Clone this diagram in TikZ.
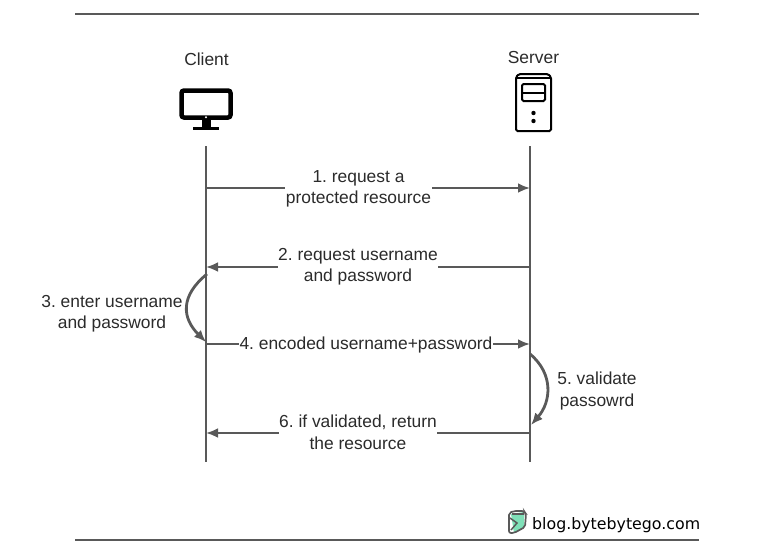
\documentclass[tikz,border=0pt]{standalone}
\usepackage{fontspec}
\setmainfont{Liberation Sans}
\newfontfamily\logofont{DejaVu Sans}
\usetikzlibrary{arrows.meta}
\definecolor{linegray}{HTML}{595959}
\definecolor{textgray}{HTML}{2B2B2B}
\definecolor{logogreen}{HTML}{7FE0B8}
\tikzset{
	lifeline/.style={line width=2.6pt,linegray},
	msg/.style={line width=2.5pt,linegray,-{Latex[length=12pt,width=10pt]}},
	selfmsg/.style={line width=2.8pt,linegray,-{Latex[length=12pt,width=10pt]}},
	hrule/.style={line width=1.5pt,linegray},
	lab/.style={fill=white,inner sep=0.5pt,align=center,font=\frenchspacing\fontsize{17.4}{21.5}\selectfont,text=textgray},
	icon/.style={line width=2pt,black,rounded corners=1.5pt}
}
\begin{document}
\begin{tikzpicture}[x=1pt,y=-1pt]
	\useasboundingbox (0,0) rectangle (772,558);
	
	\coordinate (ruleTL) at (75,14);
	\coordinate (ruleTR) at (699,14);
	\coordinate (ruleBL) at (75,540);
	\coordinate (ruleBR) at (699,540);
	\draw[hrule] (ruleTL) -- (ruleTR);
	\draw[hrule] (ruleBL) -- (ruleBR);
	
	\node[lab] (client) at (206.5,59) {Client};
	\node[lab] (server) at (533.5,58) {Server};
	
	\coordinate (clientTop) at (206,146);
	\coordinate (clientEnd) at (206,462);
	\coordinate (serverTop) at (530,146);
	\coordinate (serverEnd) at (530,462);
	\draw[lifeline] (clientTop) -- (clientEnd);
	\draw[lifeline] (serverTop) -- (serverEnd);
	
	\coordinate (c1) at (206,188);
	\coordinate (s1) at (530,188);
	\coordinate (c2) at (206,267);
	\coordinate (s2) at (530,267);
	\coordinate (c3) at (207,274);
	\coordinate (c4) at (206,344);
	\coordinate (s4) at (530,344);
	\coordinate (s5) at (530,354);
	\coordinate (s6) at (530,433);
	\coordinate (c6) at (206,433);
	\coordinate (c3e) at (206,342);
	\coordinate (s5e) at (531,425);
	
	\draw[msg] (c1) -- (s1);
	\draw[msg] (s2) -- (c2);
	\draw[msg] (c4) -- (s4);
	\draw[msg] (s6) -- (c6);
	\draw[selfmsg] (c3) .. controls (180,296) and (182,318) .. (c3e);
	\draw[selfmsg] (s5) .. controls (554,374) and (551,402) .. (s5e);
	
	\node[lab] (step1) at (358.5,189) {1. request a\\protected resource};
	\node[lab] (step2) at (358,266.5) {2. request username\\and password};
	\node[lab,fill=none] (step3) at (112,313.5) {3. enter username\\and password};
	\node[lab] (step4) at (366,345) {4. encoded username+password};
	\node[lab,fill=none] (step5) at (597,391) {5. validate\\passowrd};
	\node[lab] (step6) at (358,432.5) {6. if validated, return\\the resource};
	
	\draw[line width=4.5pt,black,rounded corners=2.5pt] (181.5,90.5) rectangle (230.5,117.5);
	\fill[black] (202,119) rectangle (211,127);
	\fill[black] (193,127) rectangle (219,129.5);
	\fill[white] (206,117.3) circle [radius=1.1];
	
	\draw[icon] (516,131) -- (516,77) -- (519,74) -- (548,74) -- (551,77) -- (551,131) -- cycle;
	\draw[line width=1.5pt,black] (516,78) -- (551,78);
	\draw[icon] (522,84) rectangle (545,101);
	\draw[line width=2pt,black] (522,92.5) -- (545,92.5);
	\fill[black] (533.5,113) circle [radius=2.2];
	\fill[black] (533.5,121) circle [radius=2.2];
	
	\fill[logogreen] (511,514) -- (524,512) -- (524,527) -- (514,533) -- cycle;
	\draw[line width=1.7pt,linegray,rounded corners=2pt] (509,533) -- (509,513) -- (514,511) -- (524,511) -- (526,514) -- (525,527) -- (514,533) -- cycle;
	\draw[line width=1.5pt,linegray] (510,518) -- (517,523) -- (511,530);
	\draw[line width=1.5pt,linegray] (512,514) -- (524,514);
	
	\node[inner sep=0pt,anchor=west,text=black,font=\logofont\fontsize{15.8}{18}\selectfont] (logo) at (532,525) {blog.bytebytego.com};
\end{tikzpicture}
\end{document}
